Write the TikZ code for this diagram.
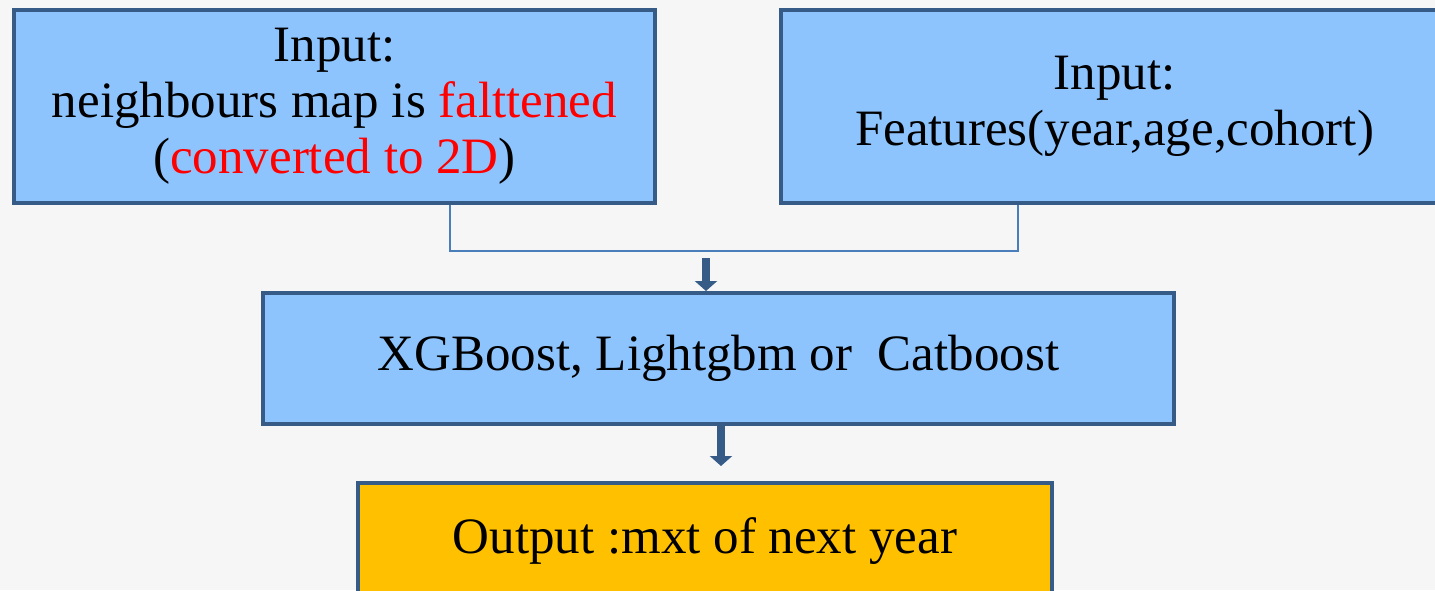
\documentclass[tikz,border=0pt]{standalone}
\usepackage{fontspec}
\setmainfont{Liberation Serif}
\usetikzlibrary{arrows.meta}
\definecolor{bg}{HTML}{F6F6F6}
\definecolor{boxfill}{HTML}{8EC4FE}
\definecolor{boxdraw}{HTML}{365B87}
\definecolor{linkc}{HTML}{4A7EBB}
\definecolor{outfill}{HTML}{FFC000}
\definecolor{hot}{HTML}{FF0000}
\begin{document}
\begin{tikzpicture}[x=1pt,y=-1pt,
  box/.style={draw=boxdraw, line width=4pt, fill=boxfill, inner sep=0pt, align=center,
    font=\fontsize{51}{56}\selectfont},
  link/.style={draw=linkc, line width=2pt},
  bigarrow/.style={draw=boxdraw, line width=8pt, -{Triangle[width=22pt,length=10pt]}}]
\useasboundingbox (0,0) rectangle (1435,590);
\clip (0,0) rectangle (1435,590);
\fill[bg] (0,0) rectangle (1435,590);
\node[box, minimum width=641pt, minimum height=193pt] (in1) at (334.5,106.5)
  {Input:\\neighbours map is \textcolor{hot}{falttened}\\(\textcolor{hot}{converted to 2D})};
\node[box, minimum width=667pt, minimum height=193pt] (in2) at (1114.5,106.5)
  {Input:\\Features(year,age,cohort)};
\node[box, minimum width=911pt, minimum height=131pt] (model) at (718.5,358.5)
  {XGBoost, Lightgbm or\ \ Catboost};
\node[box, fill=outfill, minimum width=694pt, minimum height=117pt] (out) at (705,541.5)
  {Output :mxt of next year};
\coordinate (j1) at (450,251);
\coordinate (j2) at (1018,251);
\draw[link] (in1.south -| j1) -- (j1) -- (j2) -- (in2.south -| j2);
\coordinate (a1) at (706,258);
\draw[bigarrow] (a1) -- (a1 |- model.north);
\coordinate (a2) at (721,466);
\draw[bigarrow] (model.south -| a2) -- (a2);
\end{tikzpicture}
\end{document}
